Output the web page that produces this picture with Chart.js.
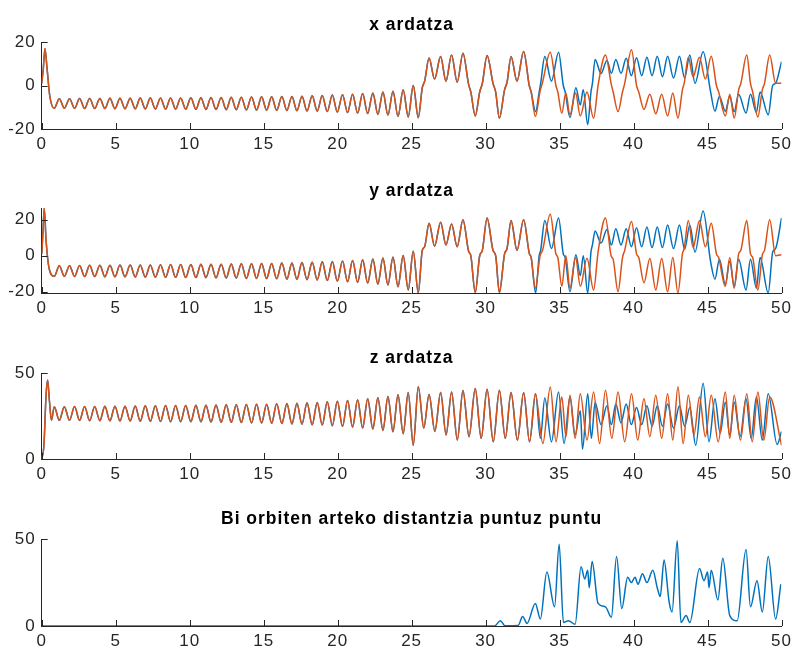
<!DOCTYPE html>
<html>
<head>
<meta charset="utf-8">
<script src="https://cdn.jsdelivr.net/npm/chart.js@4"></script>
<style>
  body { margin: 0; background: #fff; width: 796px; height: 650px; overflow: hidden; position: relative; }
  .box { position: absolute; left: 0; width: 796px; }
</style>
</head>
<body>
<script>
// --- datuak (irudiaren gailurretatik irakurrita) ---
const xTicks = [0, 5, 10, 15, 20, 25, 30, 35, 40, 45, 50];

// hasierako jauzia
const tHeadX = [0, 0.1, 0.22, 0.36, 0.55];
const xHead = [1, 7, 17, 8, -5];
const tHeadY = [0, 0.08, 0.17, 0.3, 0.5];
const yHead = [1, 12, 26.5, 8, -7];
const tHeadZ = [0, 0.15, 0.3, 0.4, 0.52, 0.66];
const zHead = [0, 8, 38, 46, 34, 22.5];

// puntu finkoaren inguruko espirala (bi orbitak berdin)
const tSpiral = [
  0.85, 1.19, 1.53, 1.88, 2.22, 2.56, 2.90, 3.24, 3.58, 3.93,
  4.27, 4.61, 4.95, 5.29, 5.63, 5.98, 6.32, 6.66, 7.00, 7.34,
  7.68, 8.03, 8.37, 8.71, 9.05, 9.39, 9.73, 10.08, 10.42, 10.76,
  11.10, 11.44, 11.78, 12.13, 12.47, 12.81, 13.15, 13.49, 13.83, 14.18,
  14.52, 14.86, 15.20, 15.54, 15.88, 16.23, 16.57, 16.91, 17.25, 17.59,
  17.93, 18.28, 18.62, 18.96, 19.30, 19.64, 19.98, 20.33, 20.67, 21.01,
  21.35, 21.69, 22.03, 22.38, 22.72, 23.06, 23.40, 23.74, 24.08, 24.43,
  24.77, 25.11, 25.45];
const xSpiral = [
  -10.5, -6.1, -10.5, -6.1, -10.5, -6.0, -10.6, -6.0, -10.6, -6.0,
  -10.6, -5.9, -10.7, -5.9, -10.7, -5.9, -10.7, -5.8, -10.8, -5.8,
  -10.8, -5.7, -10.9, -5.7, -10.9, -5.7, -10.9, -5.6, -10.9, -5.6,
  -11.0, -5.5, -11.0, -5.5, -11.1, -5.4, -11.1, -5.4, -11.2, -5.3,
  -11.3, -5.2, -11.3, -5.2, -11.4, -5.1, -11.5, -5.0, -11.6, -4.9,
  -11.7, -4.7, -11.8, -4.6, -12.0, -4.4, -12.2, -4.2, -12.4, -4.0,
  -12.7, -3.7, -12.9, -3.4, -13.3, -3.0, -13.6, -2.6, -14.2, -2.0,
  -14.5, 0.0, -14.8];
const ySpiral = [
  -11.4, -5.5, -11.4, -5.5, -11.5, -5.4, -11.6, -5.3, -11.6, -5.3,
  -11.7, -5.3, -11.7, -5.2, -11.7, -5.2, -11.8, -5.1, -11.9, -5.1,
  -11.9, -5.0, -12.0, -4.9, -12.0, -4.9, -12.1, -4.9, -12.1, -4.8,
  -12.2, -4.7, -12.3, -4.7, -12.4, -4.6, -12.4, -4.5, -12.6, -4.4,
  -12.6, -4.3, -12.7, -4.3, -12.8, -4.1, -13.0, -4.0, -13.1, -3.8,
  -13.3, -3.6, -13.5, -3.4, -13.8, -3.2, -14.1, -2.9, -14.4, -2.6,
  -14.8, -2.2, -15.2, -1.8, -15.8, -1.3, -16.3, -0.7, -17.2, 0.1,
  -19.0, 2.5, -20.7];
const zSpiral = [
  30.4, 22.5, 30.4, 22.5, 30.5, 22.4, 30.5, 22.3, 30.5, 22.3,
  30.6, 22.2, 30.7, 22.1, 30.7, 22.1, 30.8, 22.0, 30.9, 21.9,
  31.0, 21.8, 31.1, 21.7, 31.1, 21.7, 31.1, 21.7, 31.2, 21.6,
  31.3, 21.5, 31.4, 21.4, 31.5, 21.3, 31.6, 21.2, 31.7, 21.0,
  31.8, 20.9, 31.9, 20.8, 32.1, 20.6, 32.2, 20.4, 32.4, 20.2,
  32.7, 19.9, 32.9, 19.7, 33.3, 19.3, 33.6, 18.9, 34.0, 18.5,
  34.5, 18.0, 35.0, 17.4, 35.6, 16.6, 36.3, 15.9, 37.3, 14.7,
  38.7, 8.0, 42.0];

// lehen hegal-aldaketak (oraindik berdin)
const tShared = [25.72, 25.88, 26.18, 26.55, 26.96, 27.32, 27.70, 28.08, 28.47, 28.85, 29.00, 29.30,
  29.60, 29.78, 30.10, 30.50, 30.68, 30.93, 31.28, 31.45, 31.72, 32.12, 32.57];
const xShared = [-1, 2, 12.6, 3, 13.3, 2, 14, 1.5, 14.8, 0.5, -3, -14, -3, 1, 13.8, 1, -3, -15, -2, 1.5, 13.3, 2, 15.6];
const yShared = [3, 5, 18, 5.3, 18.6, 6, 17.6, 5, 20, 2.5, 0, -20.5, 0, 3, 21, 3, 0, -20.5, 1, 4, 19.6, 3, 20];
const tzShared = [25.82, 26.18, 26.57, 26.96, 27.33, 27.70, 28.09, 28.47, 28.88, 29.30, 29.70, 30.10,
  30.52, 30.93, 31.33, 31.72, 32.15, 32.57, 32.97];
const zShared = [18, 37.5, 16, 38.6, 14, 39, 11, 39.8, 13, 41, 12, 40.5, 10, 40, 12, 38.6, 11, 38.6, 10];

// bereizi ondoren: orbita laranja
const tOrange = [32.95, 33.08, 33.36, 33.68, 33.85, 34.37, 34.75, 34.88, 35.15, 35.42, 35.70, 36.08,
  36.40, 36.85, 37.30, 37.60, 38.10, 38.48, 38.62, 38.95, 39.25, 39.40, 39.86, 40.20, 40.35, 40.70,
  41.10, 41.50, 41.90, 42.30, 42.65, 43.00, 43.30, 43.42, 43.70, 44.02, 44.45, 44.85, 45.25, 45.60,
  45.75, 46.20, 46.50, 46.80, 47.10, 47.25, 47.65, 47.90, 48.05, 48.40, 48.70, 48.85, 49.20, 49.60, 50.00];
const xOrange = [0, -3, -14.3, -2.7, 1.5, 15.3, 0, -3, -12.8, -3.5, -13.5, -3.5, -14, -3, -15, 0, 14,
  1, -3, -12, -3, 1, 16.4, 0, -3, -11, -4, -13, -4, -14, -3.5, -15, -2, 1, 13, 4, 13, 3, 13.5, 0,
  -3, -14, -4, -15, -2, 1, 14, 1, -3, -14.5, -2, 1, 14, 1, 1];
const yOrange = [1.4, -1, -18, 0, 3, 23, 1, -1, -17, 0, -18, -1, -17, -1.4, -19, 2, 21, 0, -2, -20,
  -1, 3, 19, 1, -1, -15, -1.5, -19, -1.5, -20, -1, -20.7, 1, 4, 19.6, 4.5, 19.6, 5, 18, 1,
  -1, -17, -1, -18, 1, 3, 19.6, 1, -1, -19, 0.5, 3, 20, 0, 0.6];
const tzOrange = [33.36, 33.87, 34.37, 34.76, 35.15, 35.43, 35.70, 36.05, 36.40, 36.85, 37.30, 37.70,
  38.10, 38.53, 38.95, 39.40, 39.86, 40.28, 40.70, 41.10, 41.50, 41.90, 42.30, 42.65, 43.00, 43.35,
  43.70, 44.08, 44.45, 44.85, 45.25, 45.72, 46.20, 46.50, 46.80, 47.22, 47.65, 48.02, 48.40, 48.80,
  49.20, 50.00];
const zOrange = [38, 9, 41.8, 10, 36, 13, 37, 12, 38, 11, 39, 9, 40, 12, 39, 10, 38, 11, 35, 13,
  37, 12, 38, 11, 42, 9, 37, 14, 36, 13, 37, 10, 39, 12, 37, 11, 38, 10, 39, 11, 36, 8];

// bereizi ondoren: orbita urdina
const tBlue = [32.95, 33.08, 33.38, 33.62, 33.72, 34.00, 34.45, 34.93, 35.25, 35.38, 35.70, 36.10,
  36.40, 36.60, 36.90, 37.12, 37.22, 37.40, 37.80, 38.20, 38.50, 38.80, 39.15, 39.50, 39.85, 40.20,
  40.55, 40.90, 41.25, 41.60, 41.95, 42.30, 42.70, 43.10, 43.45, 43.80, 44.15, 44.70, 45.20, 45.50,
  45.80, 46.20, 46.50, 46.80, 47.10, 47.60, 47.90, 48.30, 48.55, 49.10, 49.40, 49.60, 50.00];
const xBlue = [0, -3, -12, -3, 1, 13.3, 2, 15.3, 0, -3, -14.7, -1, -9, -2, -18, -3, 1, 12, 5.5, 11.5,
  5.6, 12, 5.6, 12.5, 4.5, 12.8, 4.5, 13, 4.5, 13.5, 4, 13.5, 3.5, 13.5, 3.5, 14, 1, 15.5, -2.7, -11.8,
  -5, -11.8, -5, -12, -4, -12.7, -4, -12.4, -3, -13.5, 0, 1, 11];
const yBlue = [1.4, -1, -20.7, 0, 3, 19.6, 4, 21, 1, -1, -20, 0.5, -11, 0, -20.7, 2, 6, 13.7, 7, 14.5,
  6, 15, 6, 15, 5, 15.5, 5, 16, 4.5, 16, 4.5, 17, 4, 17, 3.5, 17, 2, 24.9, -3, -13,
  -2, -16, -3, -17, -2, -19, -2, -18, -1, -20.7, 2, 4, 21];
const tzBlue = [33.38, 33.70, 34.00, 34.45, 34.93, 35.30, 35.70, 36.05, 36.40, 36.55, 36.90, 37.15,
  37.40, 37.80, 38.20, 38.50, 38.80, 39.15, 39.50, 39.85, 40.20, 40.55, 40.90, 41.25, 41.60, 41.95,
  42.30, 42.70, 43.10, 43.45, 43.80, 44.20, 44.70, 45.10, 45.50, 45.85, 46.20, 46.50, 46.80, 47.20,
  47.60, 47.95, 48.30, 48.70, 49.10, 49.70, 50.00];
const zBlue = [38, 12, 35.5, 10, 39, 9, 36, 14, 28, 5.7, 38, 12, 33, 20, 31, 20, 32, 21, 32, 20,
  30, 20, 31, 19, 31, 19, 32, 18, 31, 19, 30, 8, 44, 10, 35, 15, 33, 14, 33, 13,
  35, 12, 36, 11, 38, 8.5, 16];

// bi orbiten arteko distantzia
const tDist = [0, 30.6, 31.0, 31.3, 32.2, 32.5, 32.8, 33.36, 33.7, 34.14, 34.66, 34.97, 35.26, 35.6,
  36.05, 36.45, 36.7, 36.9, 37.0, 37.2, 37.6, 38.1, 38.5, 38.85, 39.2, 39.6, 39.85, 40.1, 40.3, 40.6,
  40.9, 41.3, 41.6, 41.8, 42.06, 42.4, 42.6, 42.95, 43.2, 43.55, 43.8, 44.46, 44.76, 45.0, 45.1, 45.25,
  45.7, 46.03, 46.5, 47.0, 47.6, 47.9, 48.34, 48.7, 49.1, 49.6, 49.95];
const dist = [0, 0, 3, 0.2, 0.3, 5.5, 1.5, 13, 4, 31, 11, 47, 2, 3,
  1, 34, 27, 32, 22, 37, 13, 11, 5, 40, 10, 28, 25, 28, 24, 30,
  25, 32, 22, 17, 38, 14, 8, 49, 2, 6, 2, 33, 26, 31, 22, 32,
  15, 39, 6, 3, 44, 11, 26, 8, 40, 4, 24];

// --- marrazketa ---
const pts = (ts, vs) => ts.map((t, i) => ({ x: t, y: vs[i] }));

const orangeX = [...pts(tHeadX, xHead), ...pts(tSpiral, xSpiral), ...pts(tShared, xShared), ...pts(tOrange, xOrange)];
const blueX = [...pts(tHeadX, xHead), ...pts(tSpiral, xSpiral), ...pts(tShared, xShared), ...pts(tBlue, xBlue)];
const orangeY = [...pts(tHeadY, yHead), ...pts(tSpiral, ySpiral), ...pts(tShared, yShared), ...pts(tOrange, yOrange)];
const blueY = [...pts(tHeadY, yHead), ...pts(tSpiral, ySpiral), ...pts(tShared, yShared), ...pts(tBlue, yBlue)];
const orangeZ = [...pts(tHeadZ, zHead), ...pts(tSpiral, zSpiral), ...pts(tzShared, zShared), ...pts(tzOrange, zOrange)];
const blueZ = [...pts(tHeadZ, zHead), ...pts(tSpiral, zSpiral), ...pts(tzShared, zShared), ...pts(tzBlue, zBlue)];

const FONT = '"Liberation Sans", Arial, Helvetica, sans-serif';
const AX = '#262626';
const BLUE = '#0072BD';
const ORANGE = '#D95319';

const plots = [
  { title: 'x ardatza', ty: 25, top: 42, bottom: 129, min: -20, max: 20, yt: [-20, 0, 20], lines: [orangeX, blueX] },
  { title: 'y ardatza', ty: 191, top: 208, bottom: 293, min: -20.7, max: 26.5, yt: [-20, 0, 20], lines: [orangeY, blueY] },
  { title: 'z ardatza', ty: 358, top: 373, bottom: 459, min: 0, max: 50, yt: [0, 50], lines: [orangeZ, blueZ] },
  { title: 'Bi orbiten arteko distantzia puntuz puntu', ty: 519, top: 539, bottom: 626, min: 0, max: 50, yt: [0, 50], lines: [null, pts(tDist, dist)] }
];

// MATLAB erako testu zabalagoa
const spacing = {
  id: 'spacing',
  beforeDraw(chart) { chart.ctx.letterSpacing = '1px'; }
};

// MATLAB erako barruranzko marratxoak
const innerTicks = {
  id: 'innerTicks',
  afterDraw(chart) {
    const { ctx, chartArea: a, scales } = chart;
    ctx.save();
    ctx.strokeStyle = AX;
    ctx.lineWidth = 1;
    ctx.beginPath();
    scales.x.ticks.forEach(t => {
      const px = Math.round(scales.x.getPixelForValue(t.value)) + 0.5;
      ctx.moveTo(px, a.bottom);
      ctx.lineTo(px, a.bottom - 6);
    });
    scales.y.ticks.forEach(t => {
      const py = Math.round(scales.y.getPixelForValue(t.value)) + 0.5;
      ctx.moveTo(a.left, py);
      ctx.lineTo(a.left + 6, py);
    });
    ctx.stroke();
    ctx.restore();
  }
};

plots.forEach(p => {
  const cTop = Math.round(p.ty - 10.5);
  const h = p.bottom - cTop + 30;
  const div = document.createElement('div');
  div.className = 'box';
  div.style.top = cTop + 'px';
  div.style.height = h + 'px';
  const cv = document.createElement('canvas');
  cv.width = 796;
  cv.height = h;
  div.appendChild(cv);
  document.body.appendChild(div);

  const datasets = [];
  if (p.lines[0]) datasets.push({ data: p.lines[0], borderColor: ORANGE });
  datasets.push({ data: p.lines[1], borderColor: BLUE });
  datasets.forEach(d => Object.assign(d, {
    borderWidth: 1.5, pointRadius: 0, tension: 0.4, cubicInterpolationMode: 'monotone', fill: false
  }));

  new Chart(cv, {
    type: 'line',
    data: { datasets },
    options: {
      responsive: false,
      animation: false,
      layout: { padding: { left: 0, right: 13.7, top: 0, bottom: 0 } },
      plugins: {
        legend: { display: false },
        tooltip: { enabled: false },
        title: {
          display: true, fullSize: false, text: p.title, color: '#000',
          font: { family: FONT, size: 17.5, weight: 'bold' },
          padding: { top: 0, bottom: p.top - cTop - 21 }
        }
      },
      scales: {
        x: {
          type: 'linear', min: 0, max: 50,
          afterBuildTicks: s => { s.ticks = xTicks.map(v => ({ value: v })); },
          afterFit: s => { s.height = 30; },
          grid: { display: false, drawTicks: false },
          border: { display: true, color: AX, width: 1 },
          ticks: { autoSkip: false, maxRotation: 0, padding: 5, color: AX, font: { family: FONT, size: 17 } }
        },
        y: {
          type: 'linear', min: p.min, max: p.max,
          afterBuildTicks: s => { s.ticks = p.yt.map(v => ({ value: v })); },
          afterFit: s => { s.width = 41.7; },
          grid: { display: false, drawTicks: false },
          border: { display: true, color: AX, width: 1 },
          ticks: { padding: 6, color: AX, font: { family: FONT, size: 17 } }
        }
      }
    },
    plugins: [spacing, innerTicks]
  });
});
</script>
</body>
</html>
